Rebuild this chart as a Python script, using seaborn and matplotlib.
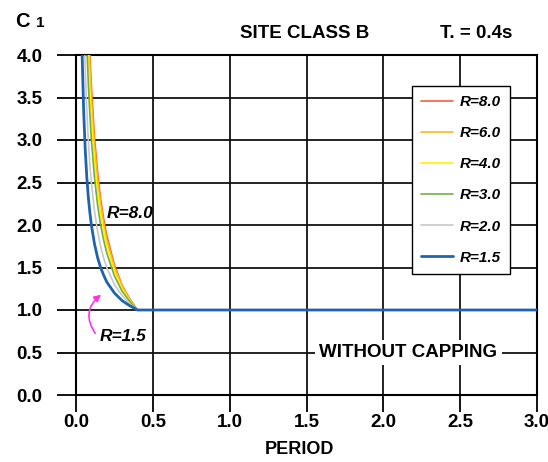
import matplotlib
matplotlib.use("Agg")
import matplotlib.pyplot as plt
import seaborn as sns
import pandas as pd

sns.set_theme(style="white")
plt.rcParams["font.family"] = ["Liberation Sans", "DejaVu Sans"]
plt.rcParams["text.color"] = "black"
plt.rcParams["xtick.color"] = "black"
plt.rcParams["ytick.color"] = "black"

# ---- data ----
periods = [0.03, 0.04, 0.05, 0.06, 0.07, 0.08, 0.09, 0.10, 0.12, 0.14, 0.16, 0.18,
           0.20, 0.25, 0.30, 0.35, 0.40, 3.00]
c1_r80 = [11.79, 8.88, 7.13, 5.96, 5.13, 4.50, 4.01, 3.63, 3.04, 2.63, 2.31, 2.07,
          1.88, 1.53, 1.29, 1.13, 1.00, 1.00]
c1_r60 = [11.28, 8.50, 6.83, 5.72, 4.93, 4.33, 3.87, 3.50, 2.94, 2.55, 2.25, 2.02,
          1.83, 1.50, 1.28, 1.12, 1.00, 1.00]
c1_r40 = [10.25, 7.75, 6.25, 5.25, 4.54, 4.00, 3.58, 3.25, 2.75, 2.39, 2.13, 1.92,
          1.75, 1.45, 1.25, 1.11, 1.00, 1.00]
c1_r30 = [9.22, 7.00, 5.67, 4.78, 4.14, 3.67, 3.30, 3.00, 2.56, 2.24, 2.00, 1.82,
          1.67, 1.40, 1.22, 1.10, 1.00, 1.00]
c1_r20 = [7.17, 5.50, 4.50, 3.83, 3.36, 3.00, 2.72, 2.50, 2.17, 1.93, 1.75, 1.61,
          1.50, 1.30, 1.17, 1.07, 1.00, 1.00]
c1_r15 = [5.11, 4.00, 3.33, 2.89, 2.57, 2.33, 2.15, 2.00, 1.78, 1.62, 1.50, 1.41,
          1.33, 1.20, 1.11, 1.05, 1.00, 1.00]
series_labels = ["R=8.0", "R=6.0", "R=4.0", "R=3.0", "R=2.0", "R=1.5"]
series_values = [c1_r80, c1_r60, c1_r40, c1_r30, c1_r20, c1_r15]
colors = ["#f2603a", "#ffb81c", "#fff200", "#72b043", "#c8c8c8", "#1f63b0"]
widths = [1.2, 1.2, 1.2, 1.2, 1.2, 2.0]
x_ticks = [0.0, 0.5, 1.0, 1.5, 2.0, 2.5, 3.0]
y_ticks = [0.0, 0.5, 1.0, 1.5, 2.0, 2.5, 3.0, 3.5, 4.0]

rows = []
for lab, vals in zip(series_labels, series_values):
    for t, v in zip(periods, vals):
        rows.append({"Period": t, "C1": v, "R": lab})
df = pd.DataFrame(rows)

W, H = 548, 462
fig = plt.figure(figsize=(W / 100, H / 100), dpi=100)
ax = fig.add_axes([76 / W, 1 - 395 / H, (537 - 76) / W, (395 - 55) / H])

sns.lineplot(data=df, x="Period", y="C1", hue="R", hue_order=series_labels,
             palette=dict(zip(series_labels, colors)), ax=ax, legend=False,
             estimator=None, sort=False, zorder=3)
for line, lw in zip(ax.get_lines(), widths):
    line.set_linewidth(lw)

ax.set_xlim(0, 3.0)
ax.set_ylim(0, 4.0)
ax.set_xticks(x_ticks)
ax.set_yticks(y_ticks)
ax.set_xticklabels([f"{v:.1f}" for v in x_ticks], fontsize=13.5, fontweight="bold")
ax.set_yticklabels([f"{v:.1f}" for v in y_ticks], fontsize=13.5, fontweight="bold")
ax.grid(True, color="#111111", linewidth=1.3, zorder=0)
ax.set_axisbelow(True)
ax.tick_params(axis="y", direction="out", length=14, width=1.3, pad=10, colors="black", left=True)
ax.tick_params(axis="x", direction="out", length=12, width=1.3, pad=2, colors="black", bottom=True)
for s in ax.spines.values():
    s.set_color("black")
    s.set_linewidth(1.5)
ax.set_xlabel("")
ax.set_ylabel("")

# legend
handles = [plt.Line2D([], [], color=c, lw=lw) for c, lw in zip(colors, widths)]
leg = ax.legend(handles, series_labels, loc="upper left",
                bbox_to_anchor=((412 - 76) / 461, (395 - 86) / 340),
                frameon=True, fancybox=False, edgecolor="black", framealpha=1,
                handlelength=2.1, handletextpad=0.45, labelspacing=1.12,
                borderpad=0.6, borderaxespad=0,
                prop={"weight": "bold", "style": "italic", "size": 11})
leg.get_frame().set_linewidth(1.0)
leg.set_zorder(5)

def fx(px):
    return px / W

def fy(py):
    return 1 - py / H

fig.text(fx(15), fy(27), "C", fontsize=14.5, fontweight="bold", va="baseline", ha="left")
fig.text(fx(36), fy(27), "1", fontsize=11, fontweight="bold", va="baseline", ha="left")
fig.text(fx(305), fy(33), "SITE CLASS B", fontsize=13.5, fontweight="bold", va="center", ha="center")
fig.text(fx(476), fy(33), "T. = 0.4s", fontsize=13.5, fontweight="bold", va="center", ha="center")
fig.text(fx(299), fy(450), "PERIOD", fontsize=13, fontweight="bold", va="center", ha="center")

ax.text(2.163, 0.5, "WITHOUT CAPPING", fontsize=13.5, fontweight="bold", va="center", ha="center",
        zorder=6, bbox=dict(facecolor="white", edgecolor="none", pad=3))
ax.text(0.20, 2.14, "R=8.0", fontsize=12.5, fontweight="bold", fontstyle="italic",
        va="center", ha="left", zorder=6)
ax.text(0.156, 0.69, "R=1.5", fontsize=12.5, fontweight="bold", fontstyle="italic",
        va="center", ha="left", zorder=6)
ax.annotate("", xy=(0.178, 1.2), xytext=(0.135, 0.70),
            arrowprops=dict(arrowstyle="-|>", color="#ff33ee", lw=1.2,
                            connectionstyle="arc3,rad=-0.5", mutation_scale=10),
            zorder=6)

fig.savefig("out.png", dpi=100)
